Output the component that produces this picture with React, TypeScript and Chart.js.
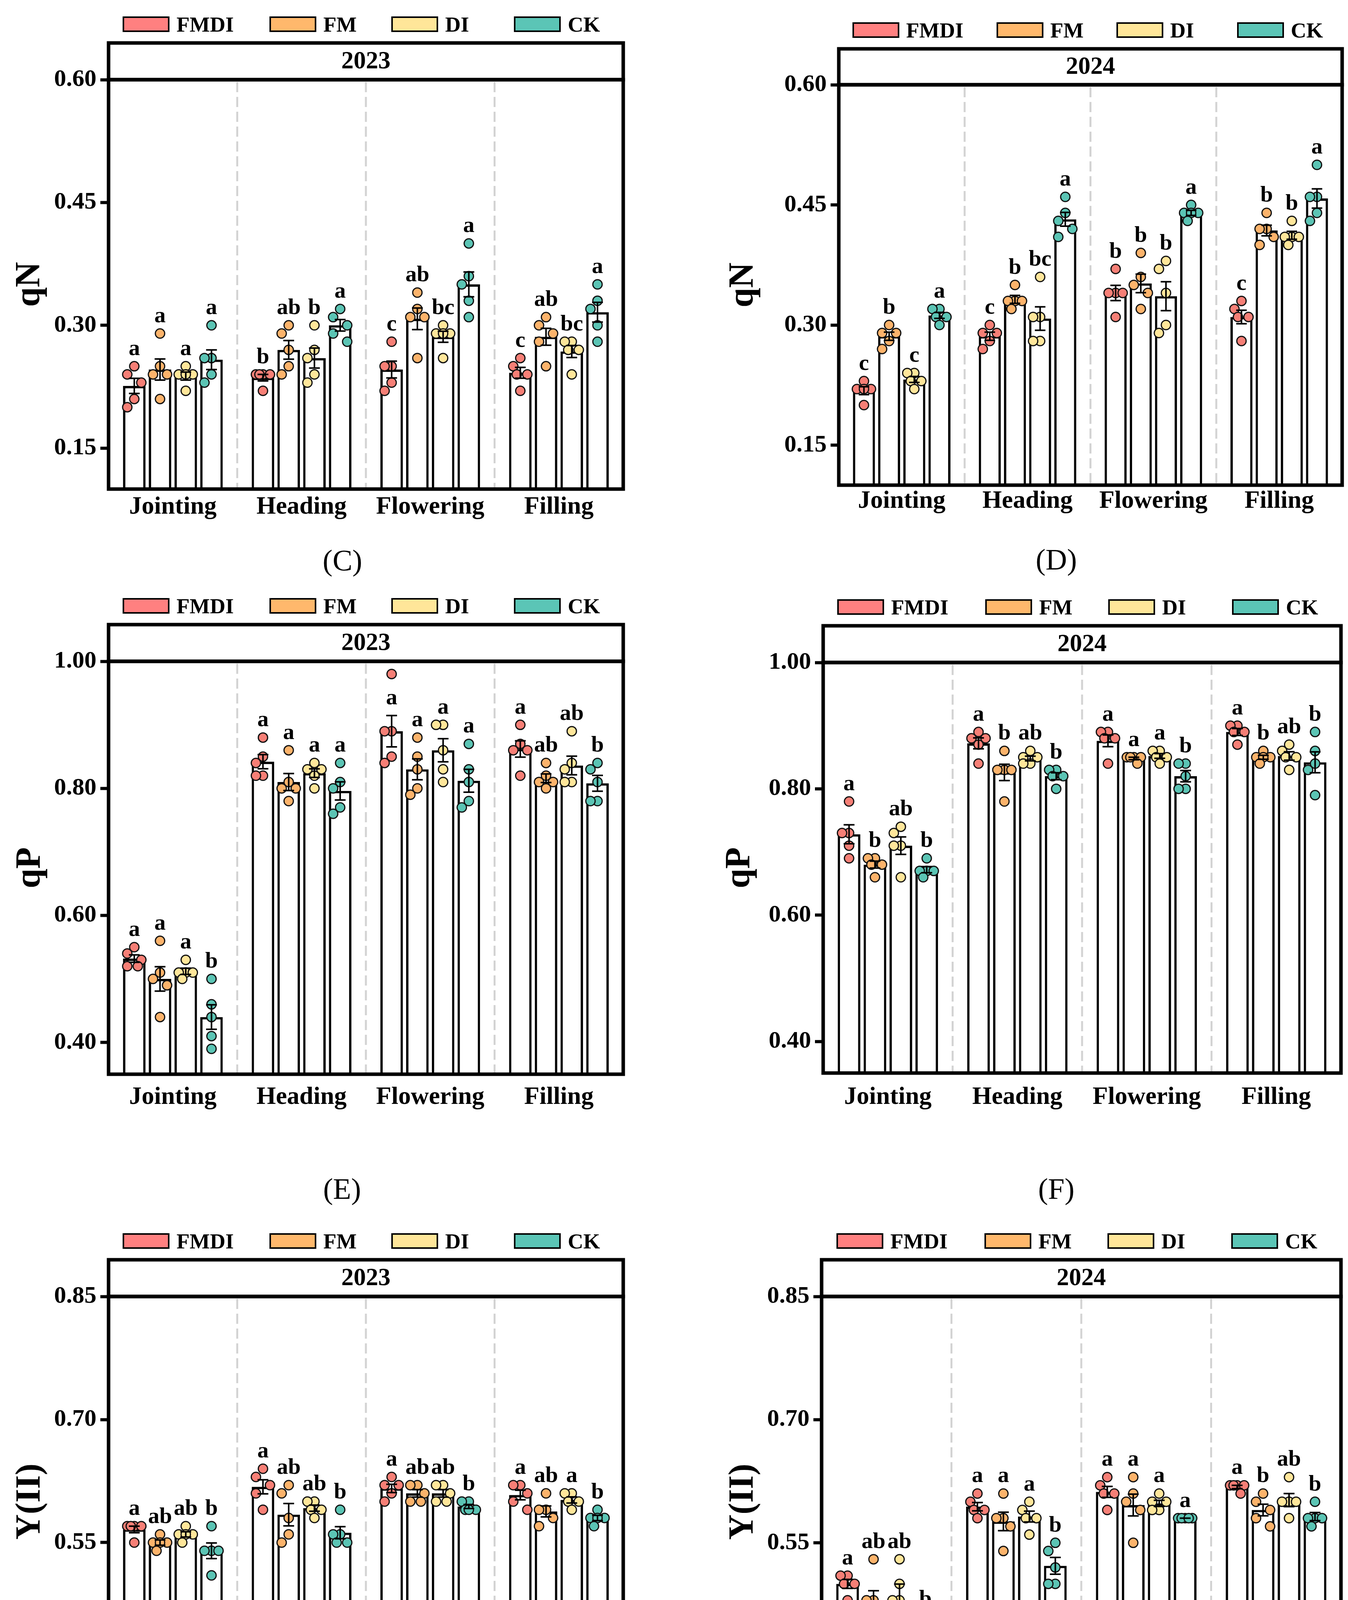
import React, { useEffect, useRef } from 'react';
import { Chart, registerables } from 'chart.js';

Chart.register(...registerables);

const FONT = "'Liberation Serif', 'Times New Roman', Times, serif";
Chart.defaults.font.family = FONT;
Chart.defaults.color = '#000';

// ---------- categories ----------
const stages = ['Jointing', 'Heading', 'Flowering', 'Filling'];
const treatments = ['FMDI', 'FM', 'DI', 'CK'];
const legendColors = ['#FF8080', '#FFB86C', '#FFE699', '#5BC5B6'];
const pointColors = ['#F67F76', '#FCB36B', '#FFE69A', '#5BC4B4'];

// ---------- tick labels ----------
const qNTicks = [0.15, 0.3, 0.45, 0.6];
const qPTicks = [0.4, 0.6, 0.8, 1.0];
const yIITicks = [0.4, 0.55, 0.7, 0.85];

// ---------- qN 2023 (C): rows = stages, 5 replicates each ----------
const qN23_FMDI = [[0.25, 0.24, 0.23, 0.21, 0.20], [0.24, 0.24, 0.24, 0.24, 0.22], [0.28, 0.25, 0.25, 0.23, 0.22], [0.26, 0.25, 0.24, 0.24, 0.22]];
const qN23_FM = [[0.29, 0.25, 0.24, 0.24, 0.21], [0.30, 0.29, 0.27, 0.25, 0.24], [0.34, 0.32, 0.31, 0.31, 0.26], [0.31, 0.30, 0.29, 0.28, 0.25]];
const qN23_DI = [[0.25, 0.24, 0.24, 0.24, 0.22], [0.30, 0.27, 0.26, 0.24, 0.23], [0.30, 0.29, 0.29, 0.29, 0.26], [0.28, 0.28, 0.27, 0.27, 0.24]];
const qN23_CK = [[0.30, 0.26, 0.26, 0.24, 0.23], [0.32, 0.31, 0.30, 0.29, 0.28], [0.40, 0.36, 0.35, 0.33, 0.31], [0.35, 0.33, 0.32, 0.30, 0.28]];
const qN23_letters = [['a', 'a', 'a', 'a'], ['b', 'ab', 'b', 'a'], ['c', 'ab', 'bc', 'a'], ['c', 'ab', 'bc', 'a']];

// ---------- qN 2024 (D) ----------
const qN24_FMDI = [[0.23, 0.22, 0.22, 0.22, 0.20], [0.30, 0.29, 0.29, 0.28, 0.27], [0.37, 0.34, 0.34, 0.34, 0.31], [0.33, 0.32, 0.31, 0.31, 0.28]];
const qN24_FM = [[0.30, 0.29, 0.29, 0.28, 0.27], [0.35, 0.33, 0.33, 0.33, 0.32], [0.39, 0.36, 0.35, 0.34, 0.32], [0.44, 0.42, 0.42, 0.41, 0.40]];
const qN24_DI = [[0.24, 0.24, 0.23, 0.23, 0.22], [0.36, 0.31, 0.31, 0.28, 0.28], [0.38, 0.37, 0.34, 0.30, 0.29], [0.43, 0.41, 0.41, 0.41, 0.40]];
const qN24_CK = [[0.32, 0.32, 0.31, 0.31, 0.30], [0.46, 0.44, 0.43, 0.42, 0.41], [0.45, 0.44, 0.44, 0.44, 0.43], [0.50, 0.46, 0.46, 0.44, 0.43]];
const qN24_letters = [['c', 'b', 'c', 'a'], ['c', 'b', 'bc', 'a'], ['b', 'b', 'b', 'a'], ['c', 'b', 'b', 'a']];

// ---------- qP 2023 (E) ----------
const qP23_FMDI = [[0.55, 0.54, 0.53, 0.52, 0.52], [0.88, 0.85, 0.84, 0.82, 0.82], [0.98, 0.89, 0.89, 0.85, 0.84], [0.90, 0.87, 0.86, 0.86, 0.82]];
const qP23_FM = [[0.56, 0.51, 0.50, 0.49, 0.44], [0.86, 0.81, 0.80, 0.80, 0.78], [0.88, 0.85, 0.83, 0.80, 0.79], [0.84, 0.82, 0.81, 0.81, 0.80]];
const qP23_DI = [[0.53, 0.51, 0.51, 0.51, 0.50], [0.84, 0.83, 0.83, 0.82, 0.80], [0.90, 0.90, 0.86, 0.83, 0.81], [0.89, 0.84, 0.83, 0.81, 0.81]];
const qP23_CK = [[0.50, 0.46, 0.44, 0.41, 0.39], [0.84, 0.81, 0.80, 0.77, 0.76], [0.87, 0.83, 0.81, 0.78, 0.77], [0.84, 0.83, 0.81, 0.78, 0.78]];
const qP23_letters = [['a', 'a', 'a', 'b'], ['a', 'a', 'a', 'a'], ['a', 'a', 'a', 'a'], ['a', 'ab', 'ab', 'b']];

// ---------- qP 2024 (F) ----------
const qP24_FMDI = [[0.78, 0.73, 0.73, 0.71, 0.69], [0.89, 0.88, 0.88, 0.87, 0.84], [0.89, 0.89, 0.88, 0.88, 0.84], [0.90, 0.90, 0.89, 0.89, 0.87]];
const qP24_FM = [[0.69, 0.69, 0.68, 0.68, 0.66], [0.86, 0.83, 0.83, 0.83, 0.78], [0.85, 0.85, 0.85, 0.85, 0.84], [0.86, 0.85, 0.85, 0.85, 0.84]];
const qP24_DI = [[0.74, 0.73, 0.71, 0.71, 0.66], [0.86, 0.85, 0.85, 0.84, 0.84], [0.86, 0.86, 0.85, 0.85, 0.84], [0.87, 0.86, 0.85, 0.85, 0.83]];
const qP24_CK = [[0.69, 0.67, 0.67, 0.67, 0.66], [0.83, 0.83, 0.82, 0.82, 0.80], [0.84, 0.84, 0.82, 0.80, 0.80], [0.89, 0.86, 0.84, 0.83, 0.79]];
const qP24_letters = [['a', 'b', 'ab', 'b'], ['a', 'b', 'ab', 'b'], ['a', 'a', 'a', 'b'], ['a', 'b', 'ab', 'b']];

// ---------- Y(II) 2023 (G) ----------
const Y23_FMDI = [[0.57, 0.57, 0.57, 0.57, 0.55], [0.64, 0.63, 0.62, 0.61, 0.59], [0.63, 0.62, 0.62, 0.61, 0.60], [0.62, 0.62, 0.61, 0.60, 0.59]];
const Y23_FM = [[0.56, 0.55, 0.55, 0.55, 0.54], [0.62, 0.61, 0.58, 0.56, 0.55], [0.62, 0.62, 0.61, 0.60, 0.60], [0.61, 0.59, 0.59, 0.58, 0.57]];
const Y23_DI = [[0.57, 0.56, 0.56, 0.56, 0.55], [0.60, 0.60, 0.59, 0.59, 0.58], [0.62, 0.62, 0.61, 0.60, 0.60], [0.61, 0.61, 0.60, 0.60, 0.59]];
const Y23_CK = [[0.57, 0.54, 0.54, 0.54, 0.51], [0.59, 0.56, 0.56, 0.55, 0.55], [0.60, 0.60, 0.59, 0.59, 0.59], [0.59, 0.58, 0.58, 0.58, 0.57]];
const Y23_letters = [['a', 'ab', 'ab', 'b'], ['a', 'ab', 'ab', 'b'], ['a', 'ab', 'ab', 'b'], ['a', 'ab', 'a', 'b']];

// ---------- Y(II) 2024 (H) ----------
const Y24_FMDI = [[0.51, 0.51, 0.50, 0.50, 0.48], [0.61, 0.60, 0.59, 0.59, 0.58], [0.63, 0.62, 0.61, 0.61, 0.59], [0.62, 0.62, 0.62, 0.62, 0.61]];
const Y24_FM = [[0.53, 0.48, 0.48, 0.45, 0.44], [0.61, 0.58, 0.58, 0.57, 0.54], [0.63, 0.61, 0.60, 0.59, 0.55], [0.61, 0.60, 0.59, 0.58, 0.57]];
const Y24_DI = [[0.53, 0.50, 0.48, 0.48, 0.41], [0.60, 0.59, 0.58, 0.58, 0.56], [0.61, 0.60, 0.60, 0.59, 0.59], [0.63, 0.60, 0.60, 0.60, 0.58]];
const Y24_CK = [[0.46, 0.45, 0.44, 0.44, 0.42], [0.55, 0.54, 0.52, 0.50, 0.50], [0.58, 0.58, 0.58, 0.58, 0.58], [0.60, 0.58, 0.58, 0.58, 0.57]];
const Y24_letters = [['a', 'ab', 'ab', 'b'], ['a', 'a', 'a', 'b'], ['a', 'a', 'a', 'a'], ['a', 'b', 'ab', 'b']];

// ---------- layout (not data) ----------
const dodge = [-0.3, -0.1, 0.1, 0.3];
const offsC = [-623, -247, 65, 379];
const offsD = [-610, -241, 66, 375];
const offsF = [-627, -248, 67, 384];

const panels = [
  { key: 'C', year: '2023', yTitle: 'qN', series: [qN23_FMDI, qN23_FM, qN23_DI, qN23_CK], letters: qN23_letters, ticks: qNTicks, yMin: 0.1, yMax: 0.6,
    L: 278, R: 1596, stripTop: 110, T: 204, B: 1252, titleX: 78, xPad: 8, tag: '(C)', tagX: 877, tagY: 1434, offs: offsC },
  { key: 'D', year: '2024', yTitle: 'qN', series: [qN24_FMDI, qN24_FM, qN24_DI, qN24_CK], letters: qN24_letters, ticks: qNTicks, yMin: 0.1, yMax: 0.6,
    L: 2148, R: 3437, stripTop: 125, T: 217, B: 1242, titleX: 1905, xPad: 3, tag: '(D)', tagX: 2705, tagY: 1432, offs: offsD },
  { key: 'E', year: '2023', yTitle: 'qP', series: [qP23_FMDI, qP23_FM, qP23_DI, qP23_CK], letters: qP23_letters, ticks: qPTicks, yMin: 0.35, yMax: 1.0,
    L: 278, R: 1596, stripTop: 1599, T: 1693, B: 2750, titleX: 79, xPad: 21, tag: '(E)', tagX: 876, tagY: 3043, offs: offsC },
  { key: 'F', year: '2024', yTitle: 'qP', series: [qP24_FMDI, qP24_FM, qP24_DI, qP24_CK], letters: qP24_letters, ticks: qPTicks, yMin: 0.35, yMax: 1.0,
    L: 2108, R: 3434, stripTop: 1602, T: 1696, B: 2747, titleX: 1896, xPad: 24, tag: '(F)', tagX: 2705, tagY: 3043, offs: offsF },
  { key: 'G', year: '2023', yTitle: 'Y(II)', series: [Y23_FMDI, Y23_FM, Y23_DI, Y23_CK], letters: Y23_letters, ticks: yIITicks, yMin: 0.35, yMax: 0.85,
    L: 278, R: 1596, stripTop: 3225, T: 3319, B: 4369, titleX: 79, xPad: 23, tag: '(G)', tagX: 878, tagY: 4550, offs: offsC },
  { key: 'H', year: '2024', yTitle: 'Y(II)', series: [Y24_FMDI, Y24_FM, Y24_DI, Y24_CK], letters: Y24_letters, ticks: yIITicks, yMin: 0.35, yMax: 0.85,
    L: 2104, R: 3434, stripTop: 3225, T: 3319, B: 4370, titleX: 1905, xPad: 22, tag: '(H)', tagX: 2712, tagY: 4550, offs: offsF },
];

function mean(a: number[]) {
  return a.reduce((s, v) => s + v, 0) / a.length;
}
function stderr(a: number[]) {
  const m = mean(a);
  const sd = Math.sqrt(a.reduce((s, v) => s + (v - m) * (v - m), 0) / (a.length - 1));
  return sd / Math.sqrt(a.length);
}

// simple beeswarm-like placement in pixel space
function swarm(py: number[], s: number, cap: number) {
  const order = py.map((_, i) => i).sort((a, b) => py[a] - py[b]);
  const cand = [0, -1, 1, -0.5, 0.5];
  const placed: { x: number; y: number }[] = [];
  const res = new Array(py.length).fill(0);
  for (const i of order) {
    let best = 0;
    let bestScore = -1;
    for (const c of cand) {
      const x = c * s;
      let m = Infinity;
      for (const p of placed) m = Math.min(m, Math.hypot(p.x - x, p.y - py[i]));
      const score = Math.min(m, cap);
      if (score > bestScore + 1e-6) {
        bestScore = score;
        best = x;
      }
    }
    res[i] = best;
    placed.push({ x: best, y: py[i] });
  }
  return res;
}

function Panel({ p }: { p: any }) {
  const ref = useRef<HTMLCanvasElement>(null);
  const cx0 = p.L - 320;
  const cy0 = p.stripTop - 10;
  const W = p.R + 16 - cx0;
  const H = p.B + 130 - cy0;
  const legendCenter = (p.L + p.R) / 2;

  useEffect(() => {
    const canvas = ref.current;
    if (!canvas) return;
    const stats = p.series.map((ser: number[][]) => ser.map((pts) => ({ m: mean(pts), e: stderr(pts) })));

    const barData: { x: number; y: number }[] = [];
    stages.forEach((_, g) => treatments.forEach((_, t) => barData.push({ x: g + dodge[t], y: stats[t][g].m })));

    const pointSets = treatments.map((_, t) => {
      const arr: { x: number; y: number }[] = [];
      stages.forEach((_, g) => p.series[t][g].forEach((v: number) => arr.push({ x: g + dodge[t], y: v })));
      return arr;
    });

    const span = p.yMax - p.yMin;

    const panelPlugin = {
      id: 'panelDeco' + p.key,
      beforeDatasetsDraw(chart: any) {
        const { ctx, chartArea } = chart;
        const xs = chart.scales.x;
        ctx.save();
        ctx.strokeStyle = '#D3D3D3';
        ctx.lineWidth = 5;
        ctx.setLineDash([26, 12]);
        [0.5, 1.5, 2.5].forEach((v) => {
          const x = xs.getPixelForValue(v);
          ctx.beginPath();
          ctx.moveTo(x, chartArea.top + 6);
          ctx.lineTo(x, chartArea.bottom);
          ctx.stroke();
        });
        ctx.restore();
      },
      afterDatasetsDraw(chart: any) {
        const { ctx } = chart;
        const xs = chart.scales.x;
        const ys = chart.scales.y;
        ctx.save();
        ctx.strokeStyle = '#000';
        ctx.lineWidth = 4;
        ctx.setLineDash([]);
        stages.forEach((_, g) => {
          treatments.forEach((_, t) => {
            const { m, e } = stats[t][g];
            const xv = g + dodge[t];
            const px = xs.getPixelForValue(xv);
            const half = xs.getPixelForValue(xv + 0.042) - px;
            const y1 = ys.getPixelForValue(m - e);
            const y2 = ys.getPixelForValue(m + e);
            ctx.beginPath();
            ctx.moveTo(px, y1);
            ctx.lineTo(px, y2);
            ctx.moveTo(px - half, y1);
            ctx.lineTo(px + half, y1);
            ctx.moveTo(px - half, y2);
            ctx.lineTo(px + half, y2);
            ctx.stroke();
          });
        });
        ctx.fillStyle = '#000';
        ctx.font = `bold 58px ${FONT}`;
        ctx.textAlign = 'center';
        ctx.textBaseline = 'alphabetic';
        stages.forEach((_, g) => {
          treatments.forEach((_, t) => {
            const pts = [...p.series[t][g]].sort((a: number, b: number) => b - a);
            const { m, e } = stats[t][g];
            let anchor = pts[0];
            if (pts[0] - pts[1] > 0.12 * span) anchor = Math.max(pts[1], m + e);
            anchor = Math.max(anchor, m + e);
            const px = xs.getPixelForValue(g + dodge[t]);
            const py = ys.getPixelForValue(anchor) - 29;
            ctx.fillText(p.letters[g][t], px, py);
          });
        });
        ctx.restore();
      },
      afterDraw(chart: any) {
        const { ctx, chartArea } = chart;
        const { left, right, top, bottom } = chartArea;
        const sTop = p.stripTop - cy0;
        ctx.save();
        ctx.setLineDash([]);
        ctx.fillStyle = '#fff';
        ctx.fillRect(left, sTop, right - left, top - sTop);
        ctx.strokeStyle = '#000';
        ctx.lineWidth = 9;
        ctx.strokeRect(left, sTop, right - left, top - sTop);
        ctx.strokeRect(left, top, right - left, bottom - top);
        ctx.fillStyle = '#000';
        ctx.font = `bold 63px ${FONT}`;
        ctx.textAlign = 'center';
        ctx.textBaseline = 'middle';
        ctx.fillText(p.year, (left + right) / 2, (sTop + top) / 2 + 2);
        ctx.restore();
      },
    };

    const chart = new Chart(canvas, {
      type: 'bar',
      data: {
        datasets: [
          {
            type: 'bar',
            data: barData,
            backgroundColor: '#FFFFFF',
            borderColor: '#000000',
            borderWidth: 6,
            borderSkipped: 'start',
            categoryPercentage: 1,
            barPercentage: 0.875,
            order: 10,
          } as any,
          ...treatments.map((t, ti) => ({
            type: 'scatter',
            label: t,
            data: pointSets[ti],
            pointRadius: 12,
            pointHoverRadius: 12,
            pointBorderWidth: 3,
            pointBorderColor: '#111111',
            pointBackgroundColor: pointColors[ti],
            showLine: false,
            order: 1,
          })) as any,
        ],
      },
      options: {
        responsive: false,
        maintainAspectRatio: false,
        animation: false,
        devicePixelRatio: 1,
        events: [],
        layout: { autoPadding: false, padding: { left: 0, right: 16, top: p.T - cy0, bottom: 30 } },
        plugins: { legend: { display: false }, tooltip: { enabled: false }, title: { display: false } },
        scales: {
          x: {
            type: 'linear',
            offset: false,
            min: -0.5,
            max: 3.5,
            grid: { display: false, drawTicks: false, offset: false },
            border: { display: false },
            afterBuildTicks: (s: any) => {
              s.ticks = stages.map((_, i) => ({ value: i }));
            },
            afterFit: (s: any) => {
              s.height = 100;
            },
            ticks: {
              autoSkip: false,
              maxRotation: 0,
              minRotation: 0,
              padding: p.xPad,
              color: '#000',
              font: { size: 64, weight: 'bold', family: FONT },
              callback: (v: any) => stages[Math.round(Number(v))] ?? '',
            },
          },
          y: {
            type: 'linear',
            min: p.yMin,
            max: p.yMax,
            afterBuildTicks: (s: any) => {
              s.ticks = p.ticks.map((v: number) => ({ value: v }));
            },
            afterFit: (s: any) => {
              s.width = 320;
            },
            grid: { display: true, drawOnChartArea: false, drawTicks: true, tickLength: 21, tickWidth: 8, tickColor: '#000' },
            border: { display: false },
            ticks: {
              padding: 10,
              color: '#000',
              font: { size: 62, weight: 'bold', family: FONT },
              callback: (v: any) => Number(v).toFixed(2),
            },
            title: {
              display: true,
              text: p.yTitle,
              color: '#000',
              font: { size: 90, weight: 'bold', family: FONT },
              padding: { top: p.titleX - cx0 - 54, bottom: 0 },
            },
          },
        },
      } as any,
      plugins: [panelPlugin],
    });

    // beeswarm offsets computed through the chart's own scales
    const xs = chart.scales.x;
    const ys = chart.scales.y;
    const ppu = xs.getPixelForValue(1) - xs.getPixelForValue(0);
    treatments.forEach((_, t) => {
      const arr: { x: number; y: number }[] = [];
      stages.forEach((_, g) => {
        const pts = p.series[t][g];
        const py = pts.map((v: number) => ys.getPixelForValue(v));
        const dx = swarm(py, 18, 30);
        pts.forEach((v: number, i: number) => arr.push({ x: g + dodge[t] + dx[i] / ppu, y: v }));
      });
      (chart.data.datasets[1 + t] as any).data = arr;
    });
    chart.update();

    return () => chart.destroy();
  }, []);

  return (
    <>
      <canvas
        ref={ref}
        width={W}
        height={H}
        style={{ position: 'absolute', left: cx0, top: cy0, width: W, height: H }}
      />
      {treatments.map((t, i) => (
        <React.Fragment key={t}>
          <div
            style={{
              position: 'absolute',
              left: legendCenter + p.offs[i],
              top: p.stripTop - 68,
              width: 120,
              height: 40,
              background: legendColors[i],
              border: '4px solid #000',
              boxSizing: 'border-box',
            }}
          />
          <div
            style={{
              position: 'absolute',
              left: legendCenter + p.offs[i] + 138,
              top: p.stripTop - 68 + 20,
              transform: 'translateY(-50%)',
              font: `bold 55px ${FONT}`,
              lineHeight: 1,
              color: '#000',
              whiteSpace: 'nowrap',
            }}
          >
            {t}
          </div>
        </React.Fragment>
      ))}
      <div
        style={{
          position: 'absolute',
          left: p.tagX,
          top: p.tagY,
          transform: 'translate(-50%, -50%)',
          font: `76px ${FONT}`,
          lineHeight: 1,
          color: '#000',
          whiteSpace: 'nowrap',
        }}
      >
        {p.tag}
      </div>
    </>
  );
}

export default function App() {
  return (
    <div style={{ position: 'absolute', left: 0, top: 0, width: 3452, height: 4603, background: '#FFFFFF', overflow: 'hidden' }}>
      {panels.map((p) => (
        <Panel key={p.key} p={p} />
      ))}
    </div>
  );
}
